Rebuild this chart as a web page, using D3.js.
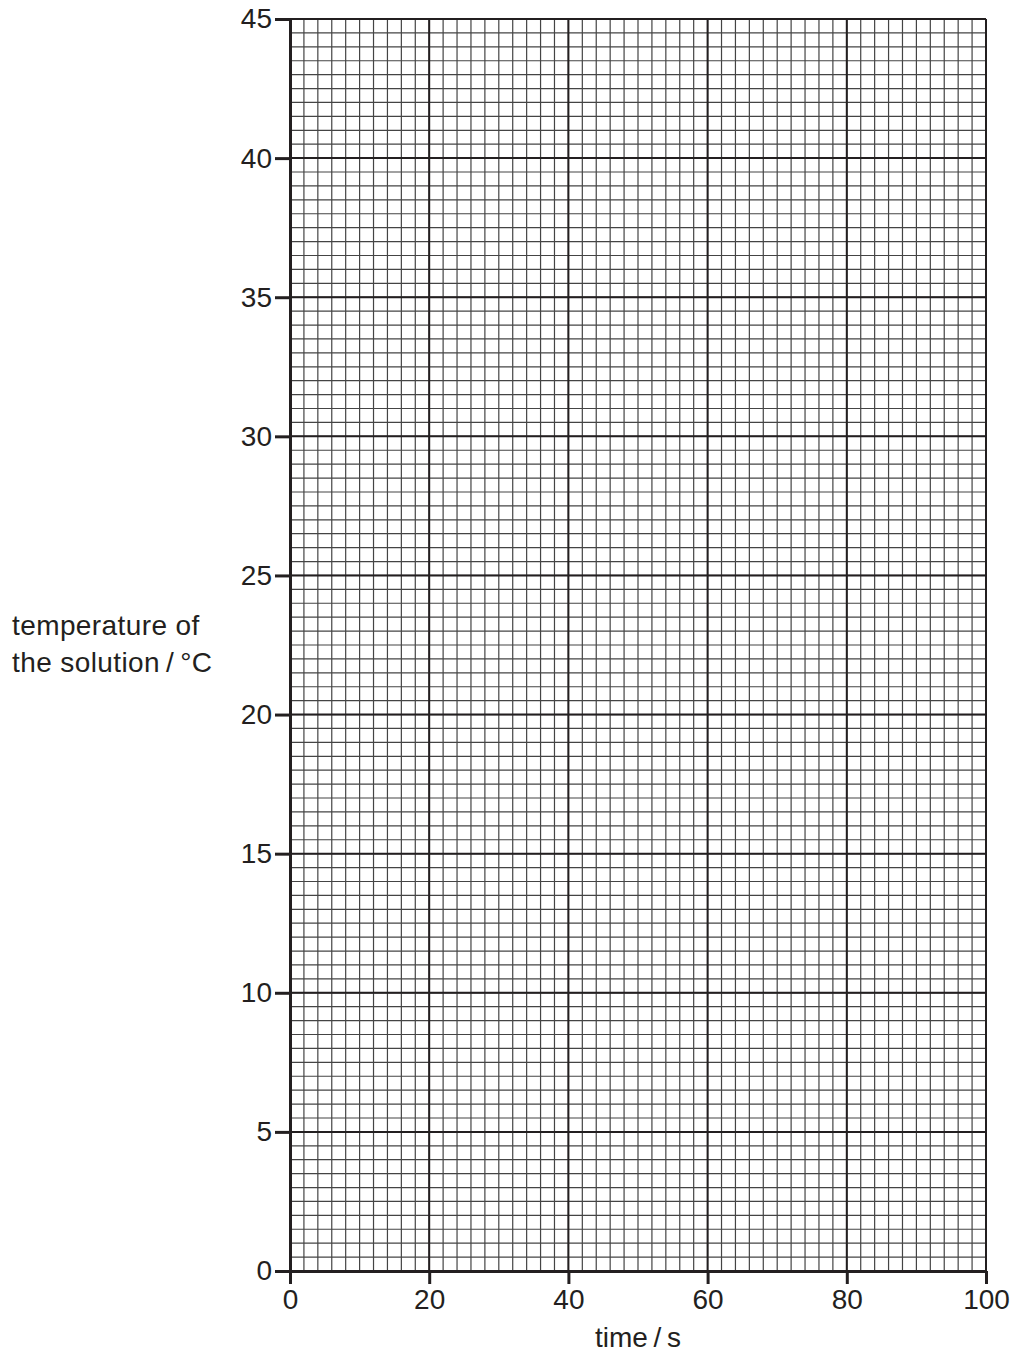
<!DOCTYPE html>
<html>
<head>
<meta charset="utf-8">
<script src="https://cdn.jsdelivr.net/npm/d3@7"></script>
<style>
  body { margin: 0; background: #fff; }
  text { font-family: "Liberation Sans", Arial, sans-serif; fill: #231f20; }
</style>
</head>
<body>
<div id="chart"></div>
<script>
// axis setup
const xDomain = [0, 100];
const yDomain = [0, 45];
const xTicks = [0, 20, 40, 60, 80, 100];
const yTicks = [0, 5, 10, 15, 20, 25, 30, 35, 40, 45];
const xMinorStep = 2;
const yMinorStep = 0.5;
const xLabel = "time\u2009/\u2009s";
const yLabelLines = ["temperature of", "the solution\u2009/\u2009°C"];

const width = 1014;
const height = 1354;
const margin = { top: 19, right: 28, bottom: 83, left: 290 };

const svg = d3.select("#chart")
  .append("svg")
  .attr("width", width)
  .attr("height", height);

const x = d3.scaleLinear().domain(xDomain).range([margin.left, width - margin.right]);
const y = d3.scaleLinear().domain(yDomain).range([height - margin.bottom, margin.top]);

const ink = "#231f20";

// minor grid
const xMinor = d3.range(xDomain[0], xDomain[1] + 0.001, xMinorStep);
const yMinor = d3.range(yDomain[0], yDomain[1] + 0.001, yMinorStep);

const grid = svg.append("g").attr("class", "grid");
grid.selectAll("line.xminor")
  .data(xMinor)
  .join("line")
  .attr("x1", d => x(d)).attr("x2", d => x(d))
  .attr("y1", y(yDomain[0])).attr("y2", y(yDomain[1]))
  .attr("stroke", "#444").attr("stroke-width", 1.2);
grid.selectAll("line.yminor")
  .data(yMinor)
  .join("line")
  .attr("y1", d => y(d)).attr("y2", d => y(d))
  .attr("x1", x(xDomain[0])).attr("x2", x(xDomain[1]))
  .attr("stroke", "#444").attr("stroke-width", 1.2);

// major grid
grid.selectAll("line.xmajor")
  .data(xTicks)
  .join("line")
  .attr("x1", d => x(d)).attr("x2", d => x(d))
  .attr("y1", y(yDomain[0])).attr("y2", y(yDomain[1]))
  .attr("stroke", ink).attr("stroke-width", 2);
grid.selectAll("line.ymajor")
  .data(yTicks)
  .join("line")
  .attr("y1", d => y(d)).attr("y2", d => y(d))
  .attr("x1", x(xDomain[0])).attr("x2", x(xDomain[1]))
  .attr("stroke", ink).attr("stroke-width", 2);

// axes
const xAxis = d3.axisBottom(x).tickValues(xTicks).tickSize(13).tickPadding(5).tickSizeOuter(0);
const yAxis = d3.axisLeft(y).tickValues(yTicks).tickSize(15).tickPadding(3).tickSizeOuter(0);

const gx = svg.append("g")
  .attr("transform", `translate(0,${y(0)})`)
  .call(xAxis);
const gy = svg.append("g")
  .attr("transform", `translate(${x(0)},0)`)
  .call(yAxis);

[gx, gy].forEach(g => {
  g.select(".domain").attr("stroke", ink).attr("stroke-width", 3);
  g.selectAll(".tick line").attr("stroke", ink).attr("stroke-width", 3);
  g.selectAll(".tick text")
    .attr("font-size", 28)
    .attr("font-family", "Liberation Sans, Arial, sans-serif")
    .attr("fill", ink);
});

// axis titles
svg.append("text")
  .attr("x", x(50))
  .attr("y", 1347)
  .attr("text-anchor", "middle")
  .attr("font-size", 28)
  .text(xLabel);

svg.append("text")
  .attr("x", 12)
  .attr("y", 635)
  .attr("font-size", 28)
  .attr("letter-spacing", 0.4)
  .selectAll("tspan")
  .data(yLabelLines)
  .join("tspan")
  .attr("x", 12)
  .attr("dy", (d, i) => i === 0 ? 0 : 37)
  .text(d => d);
</script>
</body>
</html>
